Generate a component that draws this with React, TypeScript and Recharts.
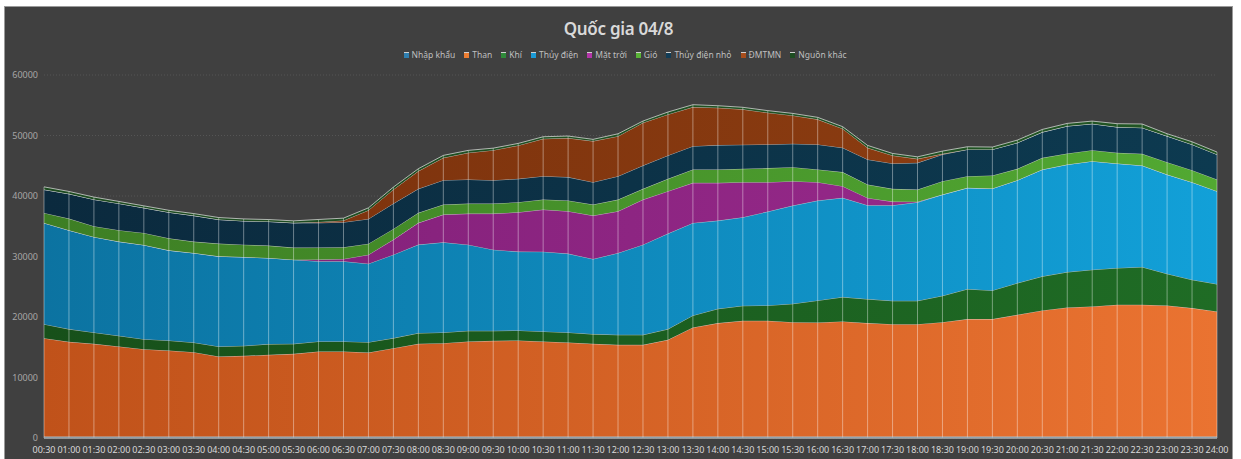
import React from "react";
import { AreaChart, Area, CartesianGrid, XAxis, YAxis, ReferenceLine } from "recharts";

const times = [
  "00:30", "01:00", "01:30", "02:00", "02:30", "03:00", "03:30", "04:00", "04:30", "05:00", "05:30", "06:00",
  "06:30", "07:00", "07:30", "08:00", "08:30", "09:00", "09:30", "10:00", "10:30", "11:00", "11:30", "12:00",
  "12:30", "13:00", "13:30", "14:00", "14:30", "15:00", "15:30", "16:00", "16:30", "17:00", "17:30", "18:00",
  "18:30", "19:00", "19:30", "20:00", "20:30", "21:00", "21:30", "22:00", "22:30", "23:00", "23:30", "24:00",
];

const nhapKhau = [
  250, 250, 250, 250, 250, 250, 250, 250, 250, 250, 250, 250,
  250, 250, 250, 250, 250, 250, 250, 250, 250, 250, 250, 250,
  250, 250, 250, 250, 250, 250, 250, 250, 250, 250, 250, 250,
  250, 250, 250, 250, 250, 250, 250, 250, 250, 250, 250, 250,
];
const than = [
  16250, 15650, 15320, 14880, 14430, 14210, 13940, 13220, 13330, 13500, 13660, 14050,
  14050, 13880, 14600, 15320, 15430, 15700, 15810, 15870, 15700, 15540, 15320, 15150,
  15150, 15980, 18020, 18740, 19130, 19130, 18900, 18850, 19020, 18740, 18570, 18570,
  18900, 19400, 19400, 20120, 20840, 21330, 21500, 21780, 21780, 21660, 21220, 20670,
];
const khi = [
  2320, 2100, 1880, 1770, 1660, 1660, 1600, 1660, 1660, 1770, 1660, 1660,
  1660, 1710, 1660, 1770, 1770, 1770, 1660, 1660, 1660, 1660, 1600, 1660,
  1660, 1770, 1990, 2370, 2480, 2540, 3040, 3640, 4030, 3970, 3860, 3860,
  4360, 4970, 4750, 5240, 5630, 5850, 6070, 6070, 6240, 5240, 4690, 4530,
];
const thuyDien = [
  16730, 16340, 15790, 15570, 15570, 14900, 14790, 14900, 14680, 14240, 13910, 13250,
  13250, 12970, 13800, 14630, 14900, 14240, 13410, 13030, 13190, 13030, 12420, 13520,
  14900, 15790, 15290, 14570, 14630, 15510, 16230, 16510, 16400, 15510, 15790, 16280,
  16730, 16730, 16840, 17000, 17660, 17780, 17940, 17280, 16780, 16400, 16120, 15350,
];
const matTroi = [
  0, 0, 0, 0, 0, 0, 0, 0, 0, 0, 0, 280,
  390, 1490, 2480, 3590, 4580, 5130, 5960, 6510, 6960, 7010, 7180, 6900,
  7450, 7010, 6620, 6240, 5800, 4860, 4030, 3040, 1930, 1220, 610, 110,
  0, 0, 0, 0, 0, 0, 0, 0, 0, 0, 0, 0,
];
const gio = [
  1660, 1930, 1770, 1880, 1990, 1990, 1880, 2100, 2040, 2040, 1990, 1990,
  1930, 1820, 1770, 1660, 1660, 1660, 1660, 1660, 1660, 1770, 1820, 1930,
  1770, 2040, 2210, 2210, 2210, 2320, 2320, 2100, 2320, 2210, 2100, 1990,
  2210, 1930, 2150, 1880, 1930, 1820, 1820, 1770, 1930, 2040, 1990, 1930,
];
const thuyDienNho = [
  3860, 4090, 4420, 4420, 4140, 4300, 4300, 3980, 3920, 3980, 4090, 4090,
  4140, 4090, 4200, 3970, 4030, 3980, 3860, 3860, 3860, 3860, 3700, 3860,
  3860, 3860, 3860, 4030, 3980, 3920, 3860, 4140, 4030, 4140, 4200, 4420,
  4420, 4420, 4310, 4310, 4250, 4530, 4360, 4250, 4310, 4310, 4250, 4140,
];
const dmtmn = [
  0, 0, 0, 0, 0, 0, 0, 0, 0, 0, 0, 150,
  280, 1440, 2320, 2930, 3700, 4420, 4970, 5520, 6180, 6460, 6790, 6620,
  7070, 6790, 6460, 6180, 5850, 5250, 4690, 4140, 3150, 1930, 1320, 660,
  100, 0, 0, 0, 0, 0, 0, 0, 0, 0, 0, 0,
];
const nguonKhac = [
  440, 390, 390, 330, 330, 330, 330, 330, 330, 330, 330, 400,
  390, 390, 390, 390, 390, 390, 330, 330, 330, 330, 280, 390,
  280, 390, 390, 330, 330, 330, 330, 330, 330, 390, 330, 330,
  450, 440, 390, 440, 440, 440, 440, 550, 610, 390, 440, 390,
];

const yTicks = [0, 10000, 20000, 30000, 40000, 50000, 60000];

// name, key, legend colour, gradient left, gradient right
const series = [
  { name: "Nhập khẩu", key: "nhapKhau", legend: "#2f7fb0", from: "#2a6f9c", to: "#3488bd" },
  { name: "Than", key: "than", legend: "#ed7d31", from: "#c0521a", to: "#ea7331" },
  { name: "Khí", key: "khi", legend: "#2f8a3a", from: "#17501a", to: "#1f6c25" },
  { name: "Thủy điện", key: "thuyDien", legend: "#1a9ad6", from: "#0c73a1", to: "#12a0d8" },
  { name: "Mặt trời", key: "matTroi", legend: "#b335a8", from: "#7e1f76", to: "#9c2b8e" },
  { name: "Gió", key: "gio", legend: "#59b336", from: "#3d7e24", to: "#52a932" },
  { name: "Thủy điện nhỏ", key: "thuyDienNho", legend: "#123d57", from: "#0b2a3e", to: "#0d3a50" },
  { name: "ĐMTMN", key: "dmtmn", legend: "#a64d1c", from: "#79300c", to: "#8f3f12" },
  { name: "Nguồn khác", key: "nguonKhac", legend: "#1d4d22", from: "#1c4a1f", to: "#215524" },
];

const data = times.map((t, i) => ({
  time: t,
  nhapKhau: nhapKhau[i],
  than: than[i],
  khi: khi[i],
  thuyDien: thuyDien[i],
  matTroi: matTroi[i],
  gio: gio[i],
  thuyDienNho: thuyDienNho[i],
  dmtmn: dmtmn[i],
  nguonKhac: nguonKhac[i],
  total: nhapKhau[i] + than[i] + khi[i] + thuyDien[i] + matTroi[i] + gio[i] + thuyDienNho[i] + dmtmn[i] + nguonKhac[i],
}));

const font = "'Noto Sans', 'Open Sans', sans-serif";

export default function App() {
  return (
    <div style={{ position: "absolute", left: 0, top: 0, width: 1241, height: 459, background: "#fff", overflow: "hidden" }}>
      <div
        style={{
          position: "absolute",
          left: 4,
          top: 6,
          width: 1227,
          height: 460,
          background: "#404040",
          border: "1px solid #9a9a9a",
          fontFamily: font,
        }}
      >
        <div
          style={{
            position: "absolute",
            left: 0,
            width: 1227,
            top: 10,
            textAlign: "center",
            color: "#d9d9d9",
            fontSize: 17,
            fontWeight: 600,
            letterSpacing: -0.3,
          }}
        >
          Quốc gia 04/8
        </div>
        <div
          style={{
            position: "absolute",
            left: 0,
            width: 1240,
            top: 42,
            display: "flex",
            justifyContent: "center",
            gap: 9,
            fontSize: 8.5,
            color: "#bfbfbf",
          }}
        >
          {series.map((s) => (
            <div key={s.key} style={{ display: "flex", alignItems: "center", gap: 3 }}>
              <span style={{ width: 5, height: 5, background: s.legend, borderTop: "1px solid #cfcfcf", display: "inline-block" }} />
              <span>{s.name}</span>
            </div>
          ))}
        </div>
        <AreaChart width={1227} height={452} data={data} margin={{ top: 68, right: 15, left: 0, bottom: 0 }}>
          <defs>
            {series.map((s) => (
              <linearGradient key={s.key} id={"g-" + s.key} x1="0" y1="0" x2="1" y2="0">
                <stop offset="0%" stopColor={s.from} />
                <stop offset="100%" stopColor={s.to} />
              </linearGradient>
            ))}
          </defs>
          <CartesianGrid vertical={false} stroke="#555555" strokeDasharray="1 2" />
          <XAxis
            dataKey="time"
            interval={0}
            height={21}
            tickSize={0}
            tickMargin={9}
            axisLine={{ stroke: "#b0b0b0", strokeWidth: 1.5 }}
            tick={{ fill: "#d9d9d9", fontSize: 9, fontFamily: font }}
          />
          <YAxis
            width={39}
            domain={[0, 60000]}
            ticks={yTicks}
            tickSize={0}
            tickMargin={6}
            axisLine={false}
            tick={{ fill: "#a6a6a6", fontSize: 9, fontFamily: font }}
          />
          {series.map((s) => (
            <Area
              key={s.key}
              type="linear"
              dataKey={s.key}
              name={s.name}
              stackId="1"
              fill={`url(#g-${s.key})`}
              fillOpacity={1}
              stroke="#dcdcdc"
              strokeOpacity={0.75}
              strokeWidth={1}
              isAnimationActive={false}
            />
          ))}
          {data.map((d) => (
            <ReferenceLine
              key={"drop-" + d.time}
              segment={[{ x: d.time, y: 0 }, { x: d.time, y: d.total }]}
              stroke="#ffffff"
              strokeOpacity={0.4}
              strokeWidth={1}
            />
          ))}
        </AreaChart>
      </div>
    </div>
  );
}
